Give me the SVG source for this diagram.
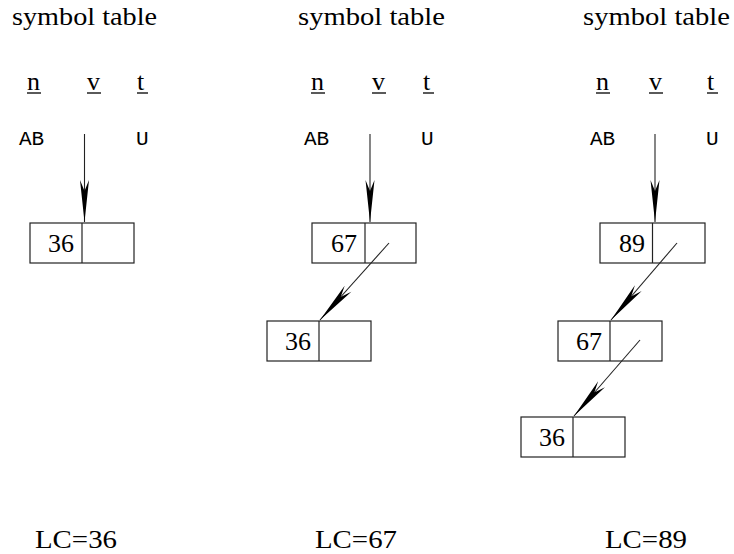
<svg xmlns="http://www.w3.org/2000/svg" width="734" height="554" viewBox="0 0 734 554">
<style>
.s{font-family:"Liberation Serif","Times New Roman",serif;font-size:26px;fill:#000}
.n{font-family:"Liberation Serif","Times New Roman",serif;font-size:26px;fill:#000;text-anchor:end}
.box{fill:none;stroke:#222;stroke-width:1.2}
.ul{stroke:#000;stroke-width:1.3}
.ar{stroke:#222;stroke-width:1.1;fill:none;marker-end:url(#ah)}
</style>
<defs>
<marker id="ah" markerUnits="userSpaceOnUse" orient="auto" refX="0" refY="0" viewBox="-43 -6 44 12" markerWidth="44" markerHeight="12" overflow="visible">
<path d="M0,0 L-42,-4.5 L-31,0 L-42,4.5 Z" fill="#000"/>
</marker>
</defs>
<rect width="734" height="554" fill="#fff"/>

<g id="panel1-header">
<text class="s" x="12" y="25" textLength="145" lengthAdjust="spacingAndGlyphs">symbol table</text>
<text class="s" x="27" y="90">n</text><line class="ul" x1="27" y1="93" x2="41" y2="93"/>
<text class="s" x="87" y="90">v</text><line class="ul" x1="87" y1="93" x2="101" y2="93"/>
<text class="s" x="137" y="90">t</text><line class="ul" x1="137" y1="93" x2="148" y2="93"/>
<text x="19" y="145" font-family="Liberation Mono, DejaVu Sans Mono, monospace" font-size="21">AB</text>
<text x="136" y="145" font-family="Liberation Mono, DejaVu Sans Mono, monospace" font-size="21">U</text>
</g>
<g id="panel2-header">
<text class="s" x="298" y="25" textLength="147" lengthAdjust="spacingAndGlyphs">symbol table</text>
<text class="s" x="311" y="90">n</text><line class="ul" x1="311" y1="93" x2="325" y2="93"/>
<text class="s" x="372" y="90">v</text><line class="ul" x1="372" y1="93" x2="386" y2="93"/>
<text class="s" x="423" y="90">t</text><line class="ul" x1="423" y1="93" x2="434" y2="93"/>
<text x="304" y="145" font-family="Liberation Mono, DejaVu Sans Mono, monospace" font-size="21">AB</text>
<text x="421" y="145" font-family="Liberation Mono, DejaVu Sans Mono, monospace" font-size="21">U</text>
</g>
<g id="panel3-header">
<text class="s" x="583" y="25" textLength="147" lengthAdjust="spacingAndGlyphs">symbol table</text>
<text class="s" x="596" y="90">n</text><line class="ul" x1="596" y1="93" x2="610" y2="93"/>
<text class="s" x="649" y="90">v</text><line class="ul" x1="649" y1="93" x2="663" y2="93"/>
<text class="s" x="707" y="90">t</text><line class="ul" x1="707" y1="93" x2="718" y2="93"/>
<text x="590" y="145" font-family="Liberation Mono, DejaVu Sans Mono, monospace" font-size="21">AB</text>
<text x="706" y="145" font-family="Liberation Mono, DejaVu Sans Mono, monospace" font-size="21">U</text>
</g>

<g id="p1-node36">
<rect class="box" x="30" y="223" width="104" height="40"/>
<line class="box" x1="82" y1="223" x2="82" y2="263"/>
<text class="n" x="74" y="251.5">36</text>
</g>

<g id="p2-node67">
<rect class="box" x="312" y="223" width="104" height="40"/>
<line class="box" x1="365" y1="223" x2="365" y2="263"/>
<text class="n" x="357" y="251.5">67</text>
</g>
<g id="p2-node36">
<rect class="box" x="267" y="321" width="104" height="40"/>
<line class="box" x1="319" y1="321" x2="319" y2="361"/>
<text class="n" x="311" y="349.5">36</text>
</g>

<g id="p3-node89">
<rect class="box" x="600" y="223" width="105" height="40"/>
<line class="box" x1="652.5" y1="223" x2="652.5" y2="263"/>
<text class="n" x="645" y="251.5">89</text>
</g>
<g id="p3-node67">
<rect class="box" x="558" y="321" width="104" height="40"/>
<line class="box" x1="610" y1="321" x2="610" y2="361"/>
<text class="n" x="602" y="349.5">67</text>
</g>
<g id="p3-node36">
<rect class="box" x="521" y="417" width="104" height="40"/>
<line class="box" x1="573" y1="417" x2="573" y2="457"/>
<text class="n" x="565" y="445.5">36</text>
</g>

<g id="connectors">
<line class="ar" x1="84.5" y1="134" x2="84.5" y2="222"/>
<line class="ar" x1="370" y1="134" x2="370" y2="222"/>
<line class="ar" x1="655" y1="134" x2="655" y2="222"/>
<line class="ar" x1="389" y1="243" x2="320" y2="320"/>
<line class="ar" x1="677" y1="243" x2="611" y2="320"/>
<line class="ar" x1="640" y1="340" x2="574" y2="416"/>
</g>

<g id="labels">
<text class="s" x="35" y="548" textLength="82" lengthAdjust="spacingAndGlyphs">LC=36</text>
<text class="s" x="315" y="548" textLength="82" lengthAdjust="spacingAndGlyphs">LC=67</text>
<text class="s" x="605" y="548" textLength="82" lengthAdjust="spacingAndGlyphs">LC=89</text>
</g>
</svg>
